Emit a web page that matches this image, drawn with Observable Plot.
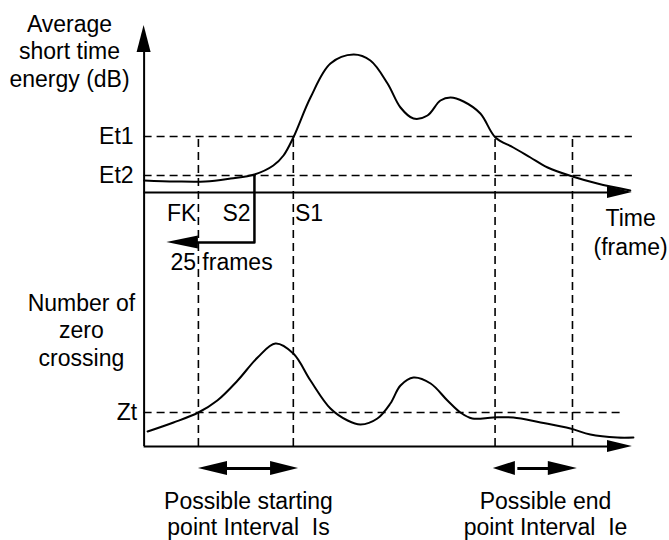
<!DOCTYPE html>
<html><head><meta charset="utf-8">
<script src="https://cdn.jsdelivr.net/npm/d3@7"></script>
<script src="https://cdn.jsdelivr.net/npm/@observablehq/plot@0.6"></script>
<style>
html,body{margin:0;padding:0;background:#fff;}
#chart svg text{white-space:pre;}
</style></head><body><div id="chart"></div>
<script>
// ---- data (time in frames; energy in dB above the time axis; zero crossings count) ----
const energyFrames = [0, 9, 17.5, 24.7, 31.5, 36.9, 39.8, 42.6, 47.5, 53.2, 59.8, 64.6, 69.5, 73.2, 76.9, 80.9, 84.6, 87.5, 91.2, 96.0, 100.3, 105.4, 110.3, 115.2, 122.3, 129.4, 138.8];
const energyValues = [12, 11, 11, 14, 18, 27, 37, 55, 95, 129, 138, 132, 109, 85, 74, 77, 92, 95, 91, 79, 55, 45, 35, 25, 16, 9, 2];
const zcFrames = [1, 8.4, 15.5, 20.9, 26.7, 32.4, 37.5, 42.6, 47.5, 53.2, 58.1, 61.8, 66.6, 70.3, 73.2, 76.9, 81.8, 86.6, 90.3, 93.7, 99.7, 105.4, 113.2, 121.7, 127.4, 135.1, 139.7];
const zcValues = [15, 24, 34, 46, 66, 89, 103, 93, 66, 38, 26, 22, 28, 43, 61, 69, 63, 46, 34, 28, 29, 29, 24, 18, 12, 9, 9];

const energyThresholdLabels = ["Et1", "Et2"];
const energyThresholdValues = [56, 17];
const zcThresholdLabels = ["Zt"];
const zcThresholdValues = [34];

const markerLabels = ["FK", "S2", "S1"];
const markerFrames = [15.5, 31.5, 42.6];
const endMarkerFrames = [100.2, 122.3];
const backtrackFrames = 25;
const backtrackLabel = "25 frames";

const intervalLabels = ["Possible starting\npoint Interval  Is", "Possible end\npoint Interval  Ie"];
const intervalStart = [15.5, 99.7];
const intervalEnd = [44.1, 123.7];

const energyTitle = "Average\nshort time\nenergy (dB)";
const zcTitle = "Number of\nzero\ncrossing";
const timeTitle = "Time\n(frame)";

// ---- layout in scale units ----
const TOP_BASE = 254;       // level of the energy time axis in the shared y scale
const AXIS_END = 139.4;     // frame where the time axes end (arrow tip)
const ZT_END = 136.6;
const E = v => TOP_BASE + v;

const energy = energyFrames.map((f, i) => ({frame: f, y: E(energyValues[i])}));
const zc = zcFrames.map((f, i) => ({frame: f, y: zcValues[i]}));

// arrowheads as filled triangles
const hHeads = [
  {id: "topT", tip: AXIS_END, y: TOP_BASE, len: 7.1, h: 6, dir: 1},
  {id: "botT", tip: AXIS_END, y: 0, len: 7.1, h: 6, dir: 1},
  {id: "back", tip: markerFrames[1] - backtrackFrames, y: 204, len: 9, h: 6.5, dir: -1},
  {id: "s1", tip: intervalStart[0], y: -22, len: 8.3, h: 7, dir: -1},
  {id: "s2", tip: intervalEnd[0], y: -22, len: 8, h: 7, dir: 1},
  {id: "e1", tip: intervalStart[1], y: -22, len: 6.3, h: 7, dir: -1},
  {id: "e2", tip: intervalEnd[1], y: -22, len: 8.3, h: 7, dir: 1}
];
const hHeadPts = hHeads.flatMap(a => [
  {id: a.id, x: a.tip - a.dir * a.len, y1: a.y - a.h, y2: a.y + a.h},
  {id: a.id, x: a.tip, y1: a.y, y2: a.y}
]);
const vHeadPts = [
  {id: "yax", y: 394, x1: -2, x2: 2},
  {id: "yax", y: 421, x1: 0, x2: 0}
];

const dash = {stroke: "#000", strokeWidth: 1.6, strokeDasharray: "8,5"};
const txt = {fill: "#000", fontSize: 23, stroke: null};

const chart = Plot.plot({
  width: 669, height: 540,
  marginTop: 0, marginBottom: 0, marginLeft: 0, marginRight: 0,
  x: {domain: [-41, 150], axis: null},
  y: {domain: [-94, 446], axis: null},
  style: {fontFamily: "'Liberation Sans', Arial, sans-serif", fontSize: "23px", background: "#fff", color: "#000"},
  marks: [
    // thresholds
    Plot.ruleY(energyThresholdValues, {y: d => E(d), x1: 0, x2: AXIS_END, ...dash}),
    Plot.ruleY(zcThresholdValues, {y: d => d, x1: 0, x2: ZT_END, ...dash}),
    // vertical dashed markers
    Plot.ruleX([markerFrames[0], markerFrames[2], ...endMarkerFrames], {x: d => d, y1: 0, y2: E(energyThresholdValues[0]) - 3, ...dash}),
    // axes
    Plot.ruleX([0], {y1: 0, y2: 400, stroke: "#000", strokeWidth: 2}),
    Plot.ruleY([TOP_BASE, 0], {x1: 0, x2: AXIS_END - 3, stroke: "#000", strokeWidth: 2}),
    Plot.areaY(hHeadPts, {x: "x", y1: "y1", y2: "y2", z: "id", fill: "#000", curve: "linear"}),
    Plot.areaX(vHeadPts, {y: "y", x1: "x1", x2: "x2", z: "id", fill: "#000", curve: "linear"}),
    // curves
    Plot.line(energy, {x: "frame", y: "y", curve: "catmull-rom", stroke: "#000", strokeWidth: 2}),
    Plot.line(zc, {x: "frame", y: "y", curve: "catmull-rom", stroke: "#000", strokeWidth: 2}),
    // S2 backtrack bracket
    Plot.line([
      {x: markerFrames[1], y: E(energyThresholdValues[1])},
      {x: markerFrames[1], y: 204},
      {x: markerFrames[1] - backtrackFrames + 8, y: 204}
    ], {x: "x", y: "y", stroke: "#000", strokeWidth: 2.5}),
    // interval double-arrow shafts
    Plot.ruleY(intervalLabels, {y: -22, x1: (d, i) => intervalStart[i] + 7, x2: (d, i) => intervalEnd[i] - 7, stroke: "#000", strokeWidth: 3}),
    // texts
    Plot.text([energyTitle], {x: -21.3, y: 396, text: d => d, lineHeight: 1.2, ...txt}),
    Plot.text([zcTitle], {x: -17.9, y: 117, text: d => d, lineHeight: 1.2, ...txt}),
    Plot.text(energyThresholdLabels, {x: -3, y: (d, i) => E(energyThresholdValues[i]), text: d => d, textAnchor: "end", ...txt}),
    Plot.text(zcThresholdLabels, {x: -2, y: (d, i) => zcThresholdValues[i], text: d => d, textAnchor: "end", ...txt}),
    Plot.text(markerLabels, {x: (d, i) => [10.7, 26.4, 47.1][i], y: 233, text: d => d, ...txt}),
    Plot.text([backtrackLabel], {x: 22.1, y: 184, text: d => d, ...txt}),
    Plot.text([timeTitle], {x: 138.9, y: 215, text: d => d, lineHeight: 1.22, ...txt}),
    Plot.text(intervalLabels, {x: (d, i) => [29.8, 114.6][i], y: -67, text: d => d, lineHeight: 1.13, ...txt})
  ]
});
document.getElementById("chart").appendChild(chart);
</script>
</body></html>
